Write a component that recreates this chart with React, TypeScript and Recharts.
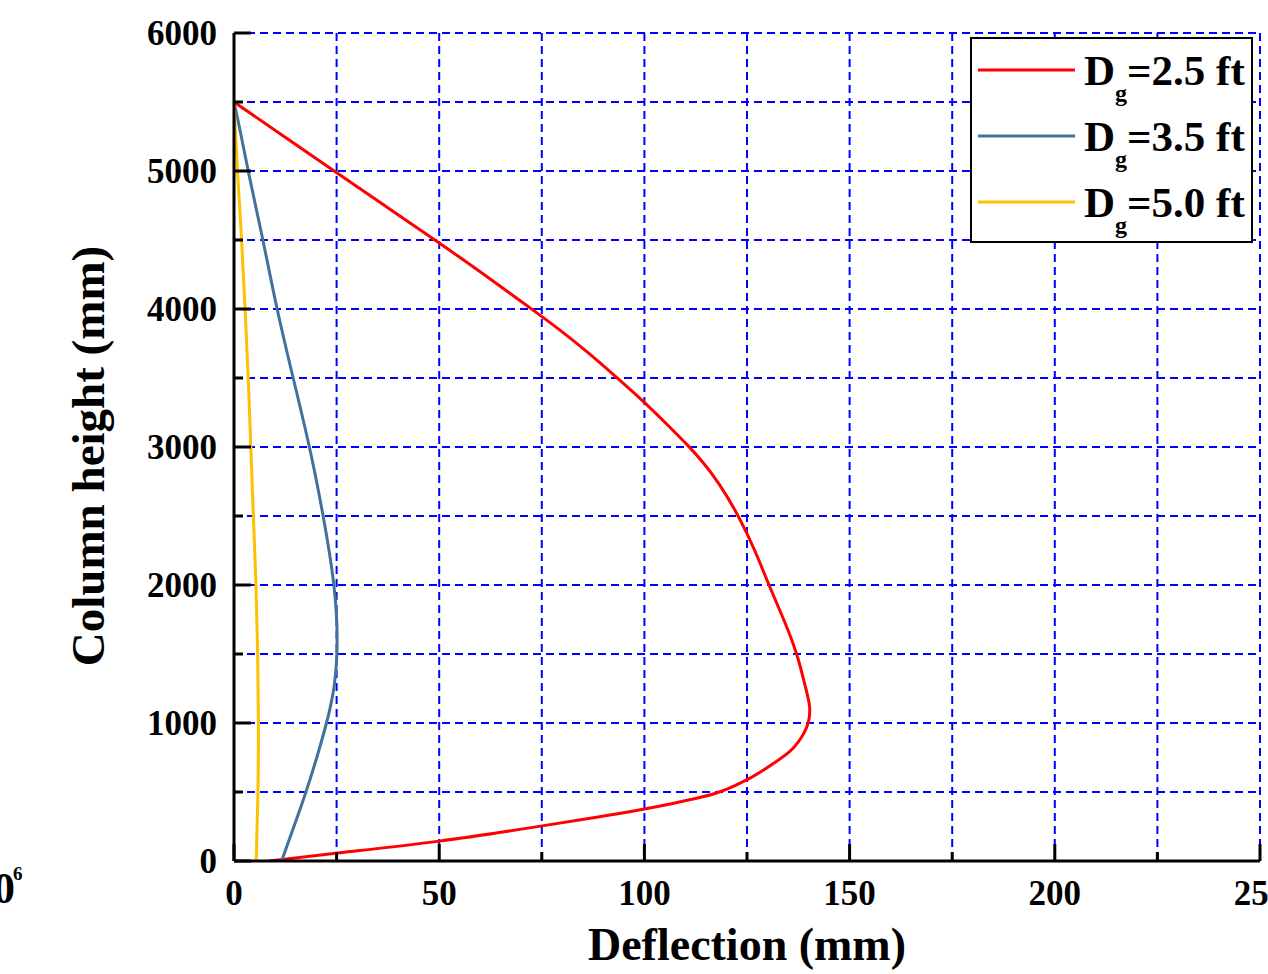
import React from 'react';
import { LineChart, Line, XAxis, YAxis, CartesianGrid, Legend, Customized } from 'recharts';

// Column height (mm) and deflection (mm) for each girder depth
const redHeight = [0, 58, 138, 254, 319, 370, 418, 471, 500, 550, 592, 650, 708, 792, 860, 925, 1000, 1120, 1250, 1500, 1750, 2000, 2250, 2500, 2750, 2900, 3000, 3150, 3326, 3500, 3680, 3848, 4000, 4250, 4500, 4750, 5000, 5250, 5500];
const redDeflection = [8.5, 25, 50, 75, 89, 99, 107.2, 115.3, 118.5, 122.3, 125.4, 128.6, 131.5, 135.6, 137.5, 138.9, 140.1, 140.5, 139.3, 137.3, 134, 130.3, 127, 123, 118, 114, 111, 106, 100, 93.4, 86.5, 79.5, 72.5, 61, 49, 36.7, 24.4, 12.2, 0];

const blueHeight = [0, 250, 500, 750, 1000, 1250, 1600, 2000, 2500, 3000, 3500, 4000, 4500, 5000, 5370, 5500];
const blueDeflection = [11.6, 14.6, 17.6, 20.2, 22.6, 24.6, 25.4, 24.6, 21.8, 18.5, 14.4, 10.4, 7.1, 3.4, 1, 0];

const yellowHeight = [0, 500, 1000, 1500, 2000, 2500, 3000, 3500, 4000, 4500, 5000, 5500];
const yellowDeflection = [5.4, 5.9, 6.0, 5.8, 5.4, 4.7, 4.1, 3.5, 2.7, 1.9, 0.8, 0];

const seriesNames = ['=2.5 ft', '=3.5 ft', '=5.0 ft'];
const seriesColors = ['#ff0000', '#41719c', '#ffc000'];

const xTicks = [0, 25, 50, 75, 100, 125, 150, 175, 200, 225, 250];
const yTicks = [0, 500, 1000, 1500, 2000, 2500, 3000, 3500, 4000, 4500, 5000, 5500, 6000];

const toPoints = (hs: number[], ds: number[]) => hs.map((h, i) => ({ x: ds[i], y: h }));
const redData = toPoints(redHeight, redDeflection);
const blueData = toPoints(blueHeight, blueDeflection);
const yellowData = toPoints(yellowHeight, yellowDeflection);

const FONT = "'Liberation Serif', 'Times New Roman', serif";

const XTick = (props: any) => {
  const { x, y, payload } = props;
  const v = payload.value;
  const major = v % 50 === 0;
  return (
    <g>
      <line x1={x} x2={x} y1={y} y2={y - (major ? 17 : 9)} stroke="#000" strokeWidth={3} />
      {major && (
        <text x={x} y={y + 44} textAnchor="middle" fontFamily={FONT} fontWeight="bold" fontSize={35} fill="#000">
          {v}
        </text>
      )}
    </g>
  );
};

const YTick = (props: any) => {
  const { x, y, payload } = props;
  const v = payload.value;
  const major = v % 1000 === 0;
  return (
    <g>
      <line x1={x} x2={x + (major ? 17 : 9)} y1={y} y2={y} stroke="#000" strokeWidth={3} />
      {major && (
        <text x={x - 17} y={y + 12} textAnchor="end" fontFamily={FONT} fontWeight="bold" fontSize={35} fill="#000">
          {v}
        </text>
      )}
    </g>
  );
};

const LegendBox = () => (
  <svg width={283} height={206} style={{ display: 'block' }}>
    <rect x={1} y={1} width={281} height={204} fill="#fff" stroke="#000" strokeWidth={2} />
    {seriesNames.map((name, i) => (
      <g key={name}>
        <line x1={8} x2={105} y1={33 + 66 * i} y2={33 + 66 * i} stroke={seriesColors[i]} strokeWidth={3} />
        <text x={114} y={48 + 66 * i} fontFamily={FONT} fontWeight="bold" fontSize={43} fill="#000">
          D
          <tspan fontSize={24} dy={16}>g</tspan>
          <tspan fontSize={43} dy={-16}>{name}</tspan>
        </text>
      </g>
    ))}
  </svg>
);

const ExtraText = () => (
  <g fontFamily={FONT} fontWeight="bold" fill="#000">
    <text x={747} y={960} textAnchor="middle" fontSize={46}>Deflection (mm)</text>
    <text x={104} y={456} textAnchor="middle" fontSize={47} transform="rotate(-90 104 456)">Column height (mm)</text>
    <text x={15} y={903} textAnchor="end" fontSize={44}>10</text>
    <text x={13} y={880} fontSize={19}>6</text>
  </g>
);

export default function App() {
  return (
    <div style={{ position: 'absolute', left: 0, top: 0, background: '#fff' }}>
      <LineChart width={1268} height={974} margin={{ top: 33, right: 8, bottom: 0, left: 0 }}>
        <CartesianGrid stroke="#0000ff" strokeDasharray="8 5" strokeWidth={2} />
        <XAxis
          dataKey="x"
          type="number"
          domain={[0, 250]}
          ticks={xTicks}
          interval={0}
          height={113}
          tickSize={0}
          tickMargin={0}
          tick={<XTick />}
          tickLine={false}
          axisLine={{ stroke: '#000', strokeWidth: 3 }}
          allowDataOverflow
        />
        <YAxis
          type="number"
          domain={[0, 6000]}
          ticks={yTicks}
          interval={0}
          width={234}
          tickSize={0}
          tickMargin={0}
          tick={<YTick />}
          tickLine={false}
          axisLine={{ stroke: '#000', strokeWidth: 3 }}
          allowDataOverflow
        />
        <XAxis
          xAxisId="top"
          orientation="top"
          type="number"
          domain={[0, 250]}
          height={0}
          tick={false}
          tickLine={false}
          axisLine={{ stroke: '#000', strokeWidth: 3 }}
        />
        <YAxis
          yAxisId="right"
          orientation="right"
          type="number"
          domain={[0, 6000]}
          width={0}
          tick={false}
          tickLine={false}
          axisLine={{ stroke: '#000', strokeWidth: 3 }}
        />
        <Line name={seriesNames[0]} data={redData} dataKey="y" type="basis" stroke={seriesColors[0]} strokeWidth={3} dot={false} isAnimationActive={false} />
        <Line name={seriesNames[1]} data={blueData} dataKey="y" type="basis" stroke={seriesColors[1]} strokeWidth={3} dot={false} isAnimationActive={false} />
        <Line name={seriesNames[2]} data={yellowData} dataKey="y" type="basis" stroke={seriesColors[2]} strokeWidth={3} dot={false} isAnimationActive={false} />
        <Legend
          layout="horizontal"
          align="center"
          verticalAlign="middle"
          content={<LegendBox />}
          wrapperStyle={{ left: 970, top: 37, width: 283, height: 206 }}
        />
        <Customized component={<ExtraText />} />
      </LineChart>
    </div>
  );
}
